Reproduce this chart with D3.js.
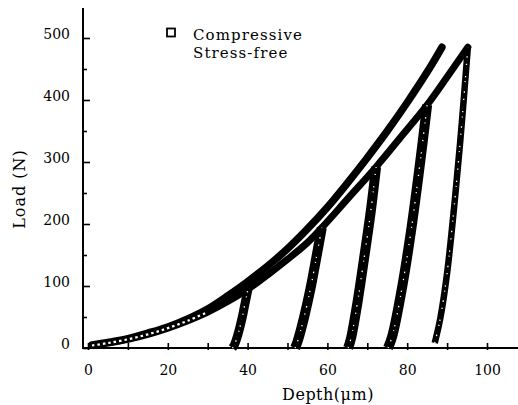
<!DOCTYPE html>
<html>
<head>
<meta charset="utf-8">
<script src="https://cdn.jsdelivr.net/npm/d3@7"></script>
<style>
  body { margin: 0; background: #fff; }
  text { font-family: "DejaVu Serif", serif; fill: #000; }
</style>
</head>
<body>
<div id="chart"></div>
<script>
// compressive loading curve
const compDepth = [1, 5, 10, 15, 20, 25, 30, 35, 40, 45, 50, 55, 60, 65, 70, 75, 80, 85, 88.7];
const compLoad  = [5, 9, 15, 24, 34, 47, 63, 84, 107, 132, 160, 192, 227, 266, 307, 350, 396, 445, 485];

// stress-free loading envelope
const freeDepth = [1, 5, 10, 15, 20, 25, 30, 35, 40.1, 45, 50, 55, 58.6, 65, 72.2, 78, 85, 90, 95.2];
const freeLoad  = [4, 8, 14, 22, 32, 44, 58, 75, 95, 118, 143, 170, 194, 240, 292, 337, 392, 437, 485];

// stress-free unloading branches
const u1Depth = [36.2, 36.7, 37.5, 38.5, 39.3, 40.1];
const u1Load  = [0, 5, 20, 45, 70, 95];
const u2Depth = [51.9, 52.5, 54.1, 55.8, 57.2, 58.6];
const u2Load  = [0, 10, 48, 97, 145, 194];
const u3Depth = [65.2, 65.9, 67.5, 69.2, 70.8, 72.2];
const u3Load  = [0, 15, 72, 145, 217, 292];
const u4Depth = [75.2, 76.3, 78.7, 81.1, 83.1, 85.0];
const u4Load  = [0, 20, 97, 195, 292, 392];
const u5Depth = [86.9, 88.3, 90.0, 92.0, 93.7, 95.2];
const u5Load  = [8, 48, 121, 243, 364, 485];

const xTicks = [0, 10, 20, 30, 40, 50, 60, 70, 80, 90, 100];
const xLabels = [0, 20, 40, 60, 80, 100];
const yTicks = [0, 50, 100, 150, 200, 250, 300, 350, 400, 450, 500];
const yLabels = [0, 100, 200, 300, 400, 500];

const width = 518, height = 405;

const svg = d3.select("#chart").append("svg")
    .attr("width", width)
    .attr("height", height);

const x = d3.scaleLinear().domain([0, 100]).range([88, 487]);
const y = d3.scaleLinear().domain([0, 500]).range([348, 38]);

const zip = (xs, ys) => xs.map((d, i) => [d, ys[i]]);
const line = d3.line()
    .x(d => x(d[0]))
    .y(d => y(d[1]))
    .curve(d3.curveCatmullRom);

/* ------- axes ------- */
const xAxis = svg.append("g")
    .attr("transform", "translate(0," + y(0) + ")")
    .call(d3.axisBottom(x)
        .tickValues(xTicks)
        .tickSize(-5)
        .tickFormat(d => xLabels.includes(d) ? d : ""));
xAxis.select(".domain").remove();
xAxis.selectAll("line").attr("y1", 2).attr("stroke-width", 1.6);
xAxis.selectAll("text")
    .attr("y", 27).attr("dy", 0)
    .style("font-size", "14px");
svg.append("line")
    .attr("x1", 83).attr("x2", 518)
    .attr("y1", y(0)).attr("y2", y(0))
    .attr("stroke", "#000").attr("stroke-width", 2);

const yAxis = svg.append("g")
    .attr("transform", "translate(83,0)")
    .call(d3.axisLeft(y)
        .tickValues(yTicks)
        .tickSize(-6)
        .tickFormat(d => yLabels.includes(d) ? d : ""));
yAxis.select(".domain").remove();
yAxis.selectAll("line")
    .attr("x2", d => yLabels.includes(d) ? 7 : 4)
    .attr("stroke-width", 1.6);
yAxis.selectAll("text")
    .attr("x", -13).attr("y", 0.5).attr("dy", 0)
    .style("font-size", "14px");
svg.append("line")
    .attr("x1", 83).attr("x2", 83)
    .attr("y1", 8).attr("y2", y(0) + 1)
    .attr("stroke", "#000").attr("stroke-width", 2);

svg.append("text")
    .attr("transform", "translate(25,189) rotate(-90)")
    .attr("text-anchor", "middle")
    .style("font-size", "16px")
    .style("letter-spacing", "1px")
    .text("Load (N)");

svg.append("text")
    .attr("x", 328).attr("y", 400)
    .attr("text-anchor", "middle")
    .style("font-size", "16px")
    .style("letter-spacing", "0.5px")
    .text("Depth(μm)");

/* ------- curves ------- */
const plot = svg.append("g");

const loading = [
    { pts: zip(compDepth, compLoad), w: 7.5 },
    { pts: zip(freeDepth, freeLoad), w: 7 }
];
const unloading = [
    { pts: zip(u1Depth, u1Load), w: 9 },
    { pts: zip(u2Depth, u2Load), w: 10 },
    { pts: zip(u3Depth, u3Load), w: 10 },
    { pts: zip(u4Depth, u4Load), w: 10 },
    { pts: zip(u5Depth, u5Load), w: 6.5 }
];

plot.selectAll("path.load")
    .data(loading).enter()
    .append("path")
    .attr("class", "load")
    .attr("d", d => line(d.pts))
    .attr("fill", "none")
    .attr("stroke", "#000")
    .attr("stroke-width", d => d.w)
    .attr("stroke-linecap", "round");

plot.selectAll("path.unload")
    .data(unloading).enter()
    .append("path")
    .attr("class", "unload")
    .attr("d", d => line(d.pts))
    .attr("fill", "none")
    .attr("stroke", "#000")
    .attr("stroke-width", d => d.w)
    .attr("stroke-linecap", "butt");

// open-square speckle inside the marker bands
plot.selectAll("path.speck")
    .data(unloading).enter()
    .append("path")
    .attr("class", "speck")
    .attr("d", d => line(d.pts))
    .attr("fill", "none")
    .attr("stroke", "#fff")
    .attr("stroke-width", 1.3)
    .attr("stroke-dasharray", "1.2 6 1.5 9 1 4 1.3 11");

plot.append("path")
    .attr("d", line(zip(freeDepth, freeLoad).filter(d => d[1] < 70)))
    .attr("fill", "none")
    .attr("stroke", "#fff")
    .attr("stroke-width", 2.2)
    .attr("stroke-dasharray", "2.5 3");

/* ------- legend ------- */
svg.append("rect")
    .attr("x", 167).attr("y", 28.5)
    .attr("width", 8).attr("height", 8)
    .attr("fill", "#fff")
    .attr("stroke", "#000")
    .attr("stroke-width", 1.8);

svg.append("text")
    .attr("x", 193).attr("y", 40)
    .style("font-size", "15px")
    .style("letter-spacing", "1.1px")
    .text("Compressive");
svg.append("text")
    .attr("x", 193).attr("y", 58)
    .style("font-size", "15px")
    .style("letter-spacing", "1.1px")
    .text("Stress-free");
</script>
</body>
</html>
